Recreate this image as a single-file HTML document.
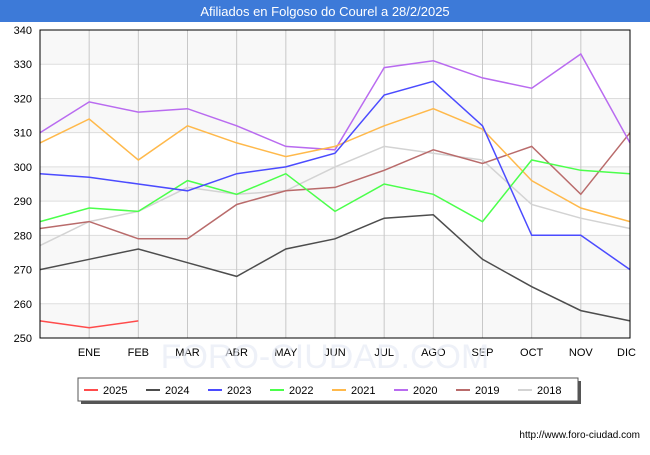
<!DOCTYPE html>
<html><head><meta charset="utf-8"><style>
body{margin:0;width:650px;height:450px;background:#fff;font-family:"Liberation Sans",sans-serif;overflow:hidden}
</style></head><body>
<svg width="650" height="450" font-family="Liberation Sans, sans-serif">
<rect x="0" y="0" width="650" height="22" fill="#3d7ad8"/>
<text x="325" y="16" text-anchor="middle" fill="#fff" font-size="13">Afiliados en Folgoso do Courel a 28/2/2025</text>
<g id="grid"></g>
<text x="325" y="368" text-anchor="middle" font-size="34" fill="#e8ecf6" opacity="0.7">FORO-CIUDAD.COM</text>
<g id="series"></g>
<rect x="40" y="30" width="590" height="308" fill="none" stroke="#000" stroke-width="1"/>
<g id="legend"></g>
<text x="640" y="438" text-anchor="end" font-size="10" fill="#000">http://www.foro-ciudad.com</text>
</svg>
<script>
const months=["","ENE","FEB","MAR","ABR","MAY","JUN","JUL","AGO","SEP","OCT","NOV","DIC"];
const yTicks=[250,260,270,280,290,300,310,320,330,340];
const seriesNames=["2025","2024","2023","2022","2021","2020","2019","2018"];
const seriesColors=["#ff4b4b","#4d4d4d","#4b4bff","#4bff4b","#ffb94b","#b96bf0","#b96b6b","#d3d3d3"];
const s2025=[255,253,255];
const s2024=[270,273,276,272,268,276,279,285,286,273,265,258,255];
const s2023=[298,297,295,293,298,300,304,321,325,312,280,280,270];
const s2022=[284,288,287,296,292,298,287,295,292,284,302,299,298];
const s2021=[307,314,302,312,307,303,306,312,317,311,296,288,284];
const s2020=[310,319,316,317,312,306,305,329,331,326,323,333,307];
const s2019=[282,284,279,279,289,293,294,299,305,301,306,292,310];
const s2018=[277,284,287,294,292,293,300,306,304,302,289,285,282];
const allSeries=[s2025,s2024,s2023,s2022,s2021,s2020,s2019,s2018];
const NS="http://www.w3.org/2000/svg";
const x=i=>40+i*(590/12);
const y=v=>338-(v-250)*(308/90);
function mk(t,a,p){const e=document.createElementNS(NS,t);for(const k in a)e.setAttribute(k,a[k]);p.appendChild(e);return e;}
const grid=document.getElementById('grid');
for(let i=0;i<yTicks.length-1;i++){
  const b=mk('rect',{x:40,y:y(yTicks[i+1]),width:590,height:y(yTicks[i])-y(yTicks[i+1]),fill:i%2===0?'#f8f8f8':'#ffffff'},grid);
  
  
}
yTicks.forEach(v=>{
  const l=mk('line',{x1:40,x2:630,y1:y(v),y2:y(v),stroke:'#dddddd'},grid);
  
  
  const t=mk('text',{x:32,y:y(v)+4,'text-anchor':'end','font-size':11,fill:'#000'},grid);
  t.textContent=v;
  
  
});
months.forEach((m,i)=>{
  if(i===0)return;
  const l=mk('line',{x1:x(i),x2:x(i),y1:30,y2:338,stroke:'#c8c8c8'},grid);
  
  
  const t=mk('text',{x:x(i)-(i===12?0:0),y:356,'text-anchor':i===12?'end':'middle','font-size':11,fill:'#000'},grid);
  if(i===12)t.setAttribute('x',x(i)+6);
  t.textContent=m;
  
  
});
const sg=document.getElementById('series');
for(let k=allSeries.length-1;k>=0;k--){
  const pts=allSeries[k].map((v,i)=>x(i).toFixed(1)+','+y(v).toFixed(1)).join(' ');
  const p=mk('polyline',{points:pts,fill:'none',stroke:seriesColors[k],'stroke-width':1.5},sg);
  
  
}
const lg=document.getElementById('legend');
const sh=mk('rect',{x:81,y:381,width:500,height:23,fill:'#555'},lg);


const box=mk('rect',{x:78,y:378,width:500,height:23,fill:'#fff',stroke:'#555'},lg);


seriesNames.forEach((n,i)=>{
  const bx=84+i*62;
  const l=mk('line',{x1:bx,x2:bx+14,y1:390,y2:390,stroke:seriesColors[i],'stroke-width':2},lg);
  
  
  const t=mk('text',{x:bx+19,y:394,'font-size':11,fill:'#000'},lg);
  t.textContent=n;
  
  
});
</script>
</body></html>
